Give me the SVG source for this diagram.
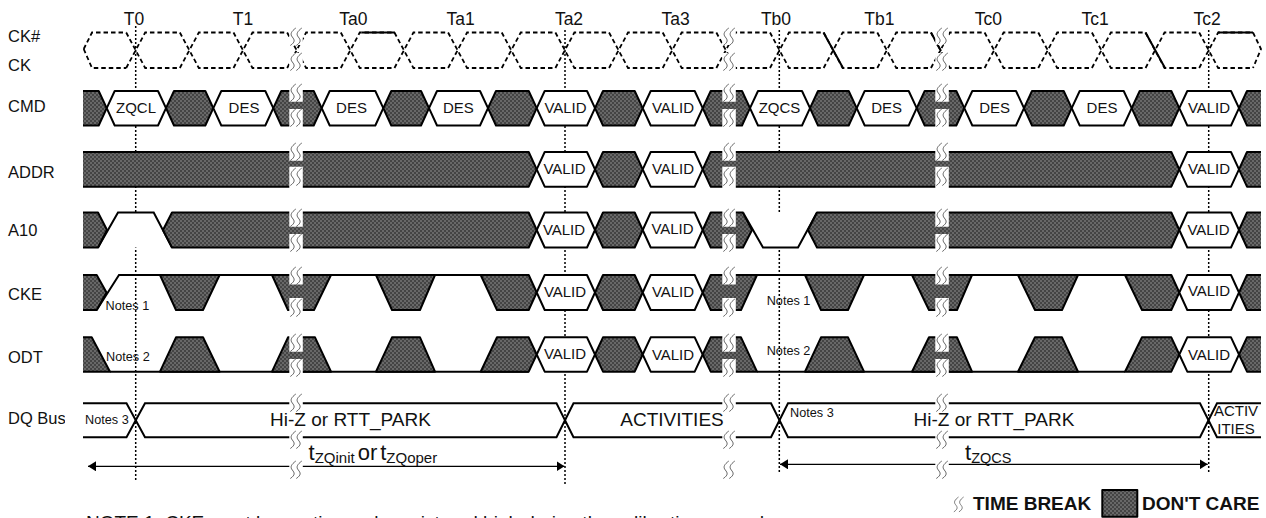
<svg xmlns="http://www.w3.org/2000/svg" width="1266" height="518" viewBox="0 0 1266 518">
<style>
text{font-family:"Liberation Sans",Arial,sans-serif;fill:#111}
.l{font-size:16.5px}
.t{font-size:17.5px;text-anchor:middle}
.c{font-size:15px;text-anchor:middle}
.n{font-size:12.7px}
.b{font-size:19px;text-anchor:middle}
.h{font-size:19px;font-weight:bold}
.d{fill:url(#dc);stroke:#000;stroke-width:2;stroke-linejoin:round}
.v{fill:#fff;stroke:#000;stroke-width:2;stroke-linejoin:round}
.s{fill:none;stroke:#000;stroke-width:2}
.k{fill:none;stroke:#000;stroke-width:1.8;stroke-dasharray:4.5 3}
.r{fill:none;stroke:#000;stroke-width:1.5;stroke-dasharray:2 2}
.a{fill:none;stroke:#000;stroke-width:1.2}
.w{fill:none;stroke:#555;stroke-width:.9}
</style>
<defs>
<pattern id="dc" width="4" height="4" patternUnits="userSpaceOnUse"><rect width="4" height="4" fill="#444"/><rect width="2" height="2" fill="#686868"/><rect x="2" y="2" width="2" height="2" fill="#686868"/></pattern>
<clipPath id="cp"><rect x="83" y="0" width="1178" height="518"/></clipPath>
<marker id="ae" markerUnits="userSpaceOnUse" markerWidth="9" markerHeight="10" refX="8" refY="5" orient="auto-start-reverse"><path d="M0 0L8 5L0 10Z" fill="#000"/></marker>
<g id="w"><path class="w" d="M6.5 0C2 3.5 .5 6 3 9S6 14 1 17.5"/><path class="w" d="M12.5 0C8 3.5 6.5 6 9 9S12 14 7 17.5"/></g>
<g id="clk"><path class="k" d="M-9.5 32.5L9.5 68H44.15"/><path class="k" d="M-9.5 68L9.5 32.5H44.15"/></g>
<g id="brk">
<path fill="#fff" d="M0 28h13.5v17H0zM0 53h13.5v17H0zM0 89h13.5v12.7H0zM0 109h13.5v18H0zM0 150h13.5v10.7H0zM0 166.7h13.5v21.3H0zM0 210.5h13.5v16.2H0zM0 234h13.5v15.5H0zM0 273h13.5v11.5H0zM0 298h13.5v14H0zM0 335h13.5v16.7H0zM0 359h13.5v14.5H0zM0 394h13.5v17.7H0zM0 431h13.5v17H0zM0 461h13.5v17H0z"/>
<use href="#w" y="28"/><use href="#w" y="53"/><use href="#w" y="84"/><use href="#w" y="109"/><use href="#w" y="143"/><use href="#w" y="168"/><use href="#w" y="209"/><use href="#w" y="234"/><use href="#w" y="267"/><use href="#w" y="299"/><use href="#w" y="334"/><use href="#w" y="359"/><use href="#w" y="394"/><use href="#w" y="431"/><use href="#w" y="461"/>
</g>
</defs>
<rect width="1266" height="518" fill="#fff"/>

<g id="connectors">
<path class="r" d="M135.7 26V480"/>
<path class="r" d="M565 30V485"/>
<path class="r" d="M779.3 30V472"/>
<path class="r" d="M1208.7 30V473"/>
<path class="a" marker-start="url(#ae)" d="M88 466.3H300"/>
<path class="a" marker-end="url(#ae)" d="M300 466.3H564.5"/>
<path class="a" marker-start="url(#ae)" d="M780 464.3H940"/>
<path class="a" marker-end="url(#ae)" d="M940 464.3H1207.7"/>
</g>

<g id="clock">
<path class="k" d="M83.7 49L92 32.5H126.2"/><path class="k" d="M83.7 49L92 68H126.2"/>
<use href="#clk" x="135.7"/><use href="#clk" x="189.35"/><use href="#clk" x="243"/><use href="#clk" x="296.65"/><use href="#clk" x="350.3"/><use href="#clk" x="403.95"/><use href="#clk" x="457.6"/><use href="#clk" x="511.25"/><use href="#clk" x="564.9"/><use href="#clk" x="618.55"/><use href="#clk" x="672.2"/><use href="#clk" x="725.85"/><use href="#clk" x="779.5"/><use href="#clk" x="833.15"/><use href="#clk" x="886.8"/><use href="#clk" x="940.45"/><use href="#clk" x="994.1"/><use href="#clk" x="1047.75"/><use href="#clk" x="1101.4"/><use href="#clk" x="1155.05"/><use href="#clk" x="1208.7"/>
<path class="k" d="M1253 32.5L1261 49L1253 68"/>
<path class="s" d="M361.5 32.5H395M823.5 32.5L843 68M931 32.5L941 51M1145.5 32.5L1165 68M1218 32.5H1253"/>
</g>

<g id="signals" clip-path="url(#cp)">
<g id="cmd">
<path class="d" d="M78 91H98.7L106.7 108.2L98.7 125.5H78Z"/>
<path class="v" d="M106.7 108.2L114.7 91H158L166 108.2L158 125.5H114.7Z"/>
<path class="d" d="M166 108.2L174 91H205.3L213.3 108.2L205.3 125.5H174Z"/>
<path class="v" d="M213.3 108.2L221.3 91H265.3L273.3 108.2L265.3 125.5H221.3Z"/>
<path class="d" d="M273.3 108.2L281.3 91H313.7L321.7 108.2L313.7 125.5H281.3Z"/>
<path class="v" d="M321.7 108.2L329.7 91H375.3L383.3 108.2L375.3 125.5H329.7Z"/>
<path class="d" d="M383.3 108.2L391.3 91H421L429 108.2L421 125.5H391.3Z"/>
<path class="v" d="M429 108.2L437 91H480L488 108.2L480 125.5H437Z"/>
<path class="d" d="M488 108.2L496 91H528.7L536.7 108.2L528.7 125.5H496Z"/>
<path class="v" d="M536.7 108.2L544.7 91H587L595 108.2L587 125.5H544.7Z"/>
<path class="d" d="M595 108.2L603 91H634.7L642.7 108.2L634.7 125.5H603Z"/>
<path class="v" d="M642.7 108.2L650.7 91H694.7L702.7 108.2L694.7 125.5H650.7Z"/>
<path class="d" d="M702.7 108.2L710.7 91H742L750 108.2L742 125.5H710.7Z"/>
<path class="v" d="M750 108.2L758 91H802L810 108.2L802 125.5H758Z"/>
<path class="d" d="M810 108.2L818 91H848.7L856.7 108.2L848.7 125.5H818Z"/>
<path class="v" d="M856.7 108.2L864.7 91H908.7L916.7 108.2L908.7 125.5H864.7Z"/>
<path class="d" d="M916.7 108.2L924.7 91H956.3L964.3 108.2L956.3 125.5H924.7Z"/>
<path class="v" d="M964.3 108.2L972.3 91H1016L1024 108.2L1016 125.5H972.3Z"/>
<path class="d" d="M1024 108.2L1032 91H1063.7L1071.7 108.2L1063.7 125.5H1032Z"/>
<path class="v" d="M1071.7 108.2L1079.7 91H1123.7L1131.7 108.2L1123.7 125.5H1079.7Z"/>
<path class="d" d="M1131.7 108.2L1139.7 91H1171.3L1179.3 108.2L1171.3 125.5H1139.7Z"/>
<path class="v" d="M1179.3 108.2L1187.3 91H1231L1239 108.2L1231 125.5H1187.3Z"/>
<path class="d" d="M1239 108.2L1247 91H1270V125.5H1247Z"/>
</g>
<g id="addr">
<path class="d" d="M78 152H528.7L536.7 169.3L528.7 186.7H78Z"/>
<path class="v" d="M536.7 169.3L544.7 152H587L595 169.3L587 186.7H544.7Z"/>
<path class="d" d="M595 169.3L603 152H634.7L642.7 169.3L634.7 186.7H603Z"/>
<path class="v" d="M642.7 169.3L650.7 152H694.7L702.7 169.3L694.7 186.7H650.7Z"/>
<path class="d" d="M702.7 169.3L710.7 152H1171.3L1179.3 169.3L1171.3 186.7H710.7Z"/>
<path class="v" d="M1179.3 169.3L1187.3 152H1231L1239 169.3L1231 186.7H1187.3Z"/>
<path class="d" d="M1239 169.3L1247 152H1270V186.7H1247Z"/>
</g>
<g id="a10">
<path d="M98 247.5L118 212.5H153.7L172 247.5Z" fill="#fff"/>
<path class="s" d="M98 247.5L118 212.5H153.7L172 247.5"/>
<path class="d" d="M78 212.5H98L107 230L98 247.5H78Z"/>
<path class="d" d="M163 230L172 212.5H528.7L536.7 230L528.7 247.5H172Z"/>
<path class="v" d="M536.7 230L544.7 212.5H587L595 230L587 247.5H544.7Z"/>
<path class="d" d="M595 230L603 212.5H634.7L642.7 230L634.7 247.5H603Z"/>
<path class="v" d="M642.7 230L650.7 212.5H694.7L702.7 230L694.7 247.5H650.7Z"/>
<path class="d" d="M702.7 230L710.7 212.5H743L752 230L743 247.5H710.7Z"/>
<path d="M743 212.5L763 247.5H798L817 212.5Z" fill="#fff"/>
<path class="s" d="M743 212.5L763 247.5H798L817 212.5"/>
<path class="d" d="M808 230L817 212.5H1171.3L1179.3 230L1171.3 247.5H817Z"/>
<path class="v" d="M1179.3 230L1187.3 212.5H1231L1239 230L1231 247.5H1187.3Z"/>
<path class="d" d="M1239 230L1247 212.5H1270V247.5H1247Z"/>
</g>
<g id="cke">
<path class="s" d="M96.7 310L119 275H528.7M757 275H805H1125"/>
<path class="d" d="M78 275H96.7L106.5 292.5L96.7 310H78Z"/>
<path class="d" d="M160 275H219.6L203 310H176Z"/>
<path class="d" d="M272 275H331L314 310H288Z"/>
<path class="d" d="M376 275H435L420 310H392Z"/>
<path class="d" d="M480.7 275H528.7L536.7 292.5L528.7 310H497Z"/>
<path class="v" d="M536.7 292.5L544.7 275H587L595 292.5L587 310H544.7Z"/>
<path class="d" d="M595 292.5L603 275H634.7L642.7 292.5L634.7 310H603Z"/>
<path class="v" d="M642.7 292.5L650.7 275H694.7L702.7 292.5L694.7 310H650.7Z"/>
<path class="d" d="M702.7 292.5L710.7 275H757L741 310H710.7Z"/>
<path class="d" d="M805 275H864L848 310H821Z"/>
<path class="d" d="M912 275H972L957 310H929Z"/>
<path class="d" d="M1018 275H1078L1062 310H1035Z"/>
<path class="d" d="M1125 275H1171.3L1179.3 292.5L1171.3 310H1142Z"/>
<path class="v" d="M1179.3 292.5L1187.3 275H1231L1239 292.5L1231 310H1187.3Z"/>
<path class="d" d="M1239 292.5L1247 275H1270V310H1247Z"/>
</g>
<g id="odt">
<path class="s" d="M110 371.7H528.7M757 371.7H1125"/>
<path class="d" d="M78 337.3H91.7L110 371.7H78Z"/>
<path class="d" d="M160 371.7H219.6L203 337.3H176Z"/>
<path class="d" d="M272 371.7H331L315 337.3H288Z"/>
<path class="d" d="M376 371.7H435L420 337.3H392Z"/>
<path class="d" d="M480.7 371.7H528.7L536.7 354.5L528.7 337.3H497Z"/>
<path class="v" d="M536.7 354.5L544.7 337.3H587L595 354.5L587 371.7H544.7Z"/>
<path class="d" d="M595 354.5L603 337.3H634.7L642.7 354.5L634.7 371.7H603Z"/>
<path class="v" d="M642.7 354.5L650.7 337.3H694.7L702.7 354.5L694.7 371.7H650.7Z"/>
<path class="d" d="M702.7 354.5L710.7 337.3H741L757 371.7H710.7Z"/>
<path class="d" d="M805 371.7H864L848 337.3H821Z"/>
<path class="d" d="M912 371.7H972L957 337.3H929Z"/>
<path class="d" d="M1018 371.7H1078L1062 337.3H1035Z"/>
<path class="d" d="M1125 371.7H1171.3L1179.3 354.5L1171.3 337.3H1142Z"/>
<path class="v" d="M1179.3 354.5L1187.3 337.3H1231L1239 354.5L1231 371.7H1187.3Z"/>
<path class="d" d="M1239 354.5L1247 337.3H1270V371.7H1247Z"/>
</g>
<g id="dq">
<path class="s" d="M78 403.3H126.5L145 437.3H556.5L573.5 403.3H771L788 437.3H1200L1217 403.3H1270"/>
<path class="s" d="M78 437.3H126.5L145 403.3H556.5L573.5 437.3H771L788 403.3H1200L1217 437.3H1270"/>
</g>
</g>

<use href="#brk" x="289.3"/>
<use href="#brk" x="722.3"/>
<use href="#brk" x="935.3"/>

<g id="labels">
<text class="l" x="8" y="41.7">CK#</text>
<text class="l" x="8" y="71">CK</text>
<text class="l" x="8" y="112">CMD</text>
<text class="l" x="8" y="178">ADDR</text>
<text class="l" x="8" y="235.6">A10</text>
<text class="l" x="8" y="300">CKE</text>
<text class="l" x="8" y="363">ODT</text>
<text class="l" x="8" y="424">DQ Bus</text>
<rect x="65" y="408" width="17" height="22" fill="#fff"/>
</g>
<g id="ticks">
<text class="t" x="134" y="25">T0</text>
<text class="t" x="243" y="25">T1</text>
<text class="t" x="353.3" y="25">Ta0</text>
<text class="t" x="460.7" y="25">Ta1</text>
<text class="t" x="569" y="25">Ta2</text>
<text class="t" x="675.7" y="25">Ta3</text>
<text class="t" x="776" y="25">Tb0</text>
<text class="t" x="879.3" y="25">Tb1</text>
<text class="t" x="988.3" y="25">Tc0</text>
<text class="t" x="1095" y="25">Tc1</text>
<text class="t" x="1207" y="25">Tc2</text>
</g>
<g id="cell-text">
<text class="c" x="136" y="113.3">ZQCL</text>
<text class="c" x="244" y="113.3">DES</text>
<text class="c" x="351.5" y="113.3">DES</text>
<text class="c" x="458.3" y="113.3">DES</text>
<text class="c" x="565.5" y="113.3">VALID</text>
<text class="c" x="673" y="113.3">VALID</text>
<text class="c" x="779.5" y="113.3">ZQCS</text>
<text class="c" x="886.7" y="113.3">DES</text>
<text class="c" x="994.7" y="113.3">DES</text>
<text class="c" x="1102" y="113.3">DES</text>
<text class="c" x="1209" y="113.3">VALID</text>
<text class="c" x="564.5" y="174.3">VALID</text>
<text class="c" x="673" y="174.3">VALID</text>
<text class="c" x="1209" y="174.3">VALID</text>
<text class="c" x="564" y="235">VALID</text>
<text class="c" x="672.5" y="234">VALID</text>
<text class="c" x="1208.5" y="235">VALID</text>
<text class="c" x="565" y="296.7">VALID</text>
<text class="c" x="673" y="296.7">VALID</text>
<text class="c" x="1209" y="296">VALID</text>
<text class="c" x="565" y="359">VALID</text>
<text class="c" x="673" y="360">VALID</text>
<text class="c" x="1209" y="360">VALID</text>
<text class="n" x="105.5" y="310">Notes 1</text>
<text class="n" x="106" y="361">Notes 2</text>
<text class="n" x="85" y="424">Notes 3</text>
<text class="n" x="766.7" y="305">Notes 1</text>
<text class="n" x="766.7" y="355">Notes 2</text>
<text class="n" x="790" y="416.7">Notes 3</text>
<text class="b" x="350.5" y="425.7">Hi-Z or RTT_PARK</text>
<text class="b" x="672" y="425.7">ACTIVITIES</text>
<text class="b" x="994" y="425.7">Hi-Z or RTT_PARK</text>
<text class="c" x="1236" y="416">ACTIV</text>
<text class="c" x="1236" y="434">ITIES</text>
<text x="308.5" y="460" font-size="22">t<tspan font-size="15" dy="2.7">ZQinit</tspan><tspan font-size="22" dy="-2.7" dx="3">or</tspan><tspan font-size="22" dx="3">t</tspan><tspan font-size="15" dy="2.7">ZQoper</tspan></text>
<text x="965" y="460" font-size="22">t<tspan font-size="14.5" dy="2.5">ZQCS</tspan></text>
<text x="86" y="529" font-size="19">NOTE 1: CKE must be continuously registered high during the calibration procedure.</text>
</g>
<g id="legend">
<use href="#w" transform="translate(953 497) scale(.85)"/>
<text class="h" x="973" y="510">TIME BREAK</text>
<rect class="d" x="1102.3" y="490" width="35" height="26.7"/>
<text class="h" x="1142" y="510">DON'T CARE</text>
</g>
</svg>
